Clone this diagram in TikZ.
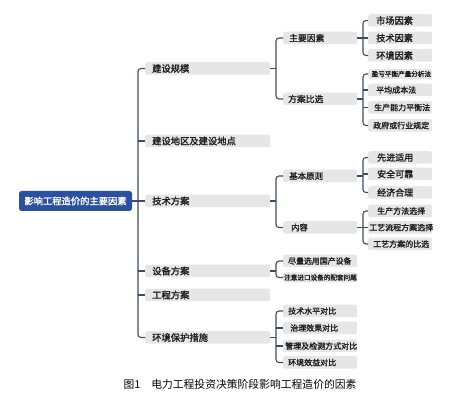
\documentclass[tikz,border=0pt]{standalone}
\usepackage{fontspec}
\newfontfamily\cjk{Noto Sans CJK SC}
\newfontfamily\cjkb{Noto Sans CJK SC}[FakeBold=1.6]
\definecolor{boxgray}{HTML}{E6E6E6}
\definecolor{rootblue}{HTML}{2B50A2}
\definecolor{linecol}{HTML}{3C4B68}
\definecolor{txt}{HTML}{1E1E1E}
\newcommand\Lone[2][7pt]{\makebox[125pt][l]{\hspace*{#1}#2}}
\newcommand\Ltwo[2][6pt]{\makebox[74pt][l]{\hspace*{#1}#2}}
\newcommand\Lthree[2][8pt]{\makebox[64pt][l]{\hspace*{#1}#2}}
\tikzset{
  base/.style={fill=boxgray, rounded corners=2pt, inner sep=0pt, minimum height=12.5pt,
    text=txt, anchor=west, font=\cjkb\fontsize{9.2}{10}\selectfont},
  fsz/.style={font=\cjkb\fontsize{#1}{#1}\selectfont},
  rootbox/.style={fill=rootblue, rounded corners=2.5pt, inner sep=0pt, minimum width=113pt,
    minimum height=20pt, text=white, font=\cjkb\fontsize{9.3}{10}\selectfont},
  conn/.style={draw=linecol, line width=1.1pt},
  brk/.style={conn, rounded corners=3pt},
  capt/.style={font=\cjk\fontsize{10.8}{12}\selectfont, text=black}
}
\begin{document}
\begin{tikzpicture}[x=1pt, y=-1pt]
\useasboundingbox (0,0) rectangle (451,404);
% root
\node[rootbox] (root) at (75.5,201) {影响工程造价的主要因素};
% level 1
\node[base, fsz=9.3] (a1) at (145,68.5) {\Lone{建设规模}};
\node[base, fsz=9.3] (a2) at (145,141) {\Lone{建设地区及建设地点}};
\node[base, fsz=9.3] (a3) at (145,201) {\Lone{技术方案}};
\node[base, fsz=9.3] (a4) at (145,271) {\Lone{设备方案}};
\node[base, fsz=9.3] (a5) at (145,295) {\Lone{工程方案}};
\node[base, fsz=9.3] (a6) at (145,337.5) {\Lone{环境保护措施}};
% level 2
\node[base, fsz=8.8] (b1) at (283,38) {\Ltwo{主要因素}};
\node[base, fsz=8.8] (b2) at (283,99) {\Ltwo[5pt]{方案比选}};
\node[base, fsz=8.5] (b3) at (283,176) {\Ltwo{基本原则}};
\node[base, fsz=8.3] (b4) at (283,227.5) {\Ltwo[8pt]{内容}};
\node[base, fsz=7.9] (b5) at (283,261) {\Ltwo[5pt]{尽量选用国产设备}};
\node[base, fsz=6.6, minimum height=10pt] (b6) at (283,277.5) {\Ltwo[1pt]{注意进口设备的配套问题}};
\node[base, fsz=8] (b7) at (283,311) {\Ltwo[5pt]{技术水平对比}};
\node[base, fsz=8] (b8) at (283,328) {\Ltwo[7pt]{治理效果对比}};
\node[base, fsz=8] (b9) at (283,346) {\Ltwo[2pt]{管理及检测方式对比}};
\node[base, fsz=8] (b10) at (283,362.5) {\Ltwo[5pt]{环境效益对比}};
% level 3
\node[base, fsz=9.2] (c1) at (368,20.5) {\Lthree{市场因素}};
\node[base, fsz=9.2] (c2) at (368,38) {\Lthree{技术因素}};
\node[base, fsz=9.2] (c3) at (368,55.5) {\Lthree{环境因素}};
\node[base, fsz=6.6, minimum height=10pt] (c4) at (368,74) {\Lthree[3.5pt]{盈亏平衡产量分析法}};
\node[base, fsz=8] (c5) at (368,90) {\Lthree{平均成本法}};
\node[base, fsz=8] (c6) at (368,107.5) {\Lthree[6pt]{生产能力平衡法}};
\node[base, fsz=8] (c7) at (368,125.5) {\Lthree[5pt]{政府或行业规定}};
\node[base, fsz=9] (c8) at (368,157.5) {\Lthree[9pt]{先进适用}};
\node[base, fsz=9] (c9) at (368,174) {\Lthree[9pt]{安全可靠}};
\node[base, fsz=9] (c10) at (368,192.5) {\Lthree[9pt]{经济合理}};
\node[base, fsz=8] (c11) at (368,211) {\Lthree[9pt]{生产方法选择}};
\node[base, fsz=8] (c12) at (368,227.5) {\Lthree[1pt]{工艺流程方案选择}};
\node[base, fsz=8] (c13) at (368,244) {\Lthree[5pt]{工艺方案的比选}};
% bracket x positions
\coordinate (k0) at (138,0);
\coordinate (k1) at (276,0);
\coordinate (k2) at (363,0);
% root -> level 1
\draw[conn] (root.east) -- (k0 |- root.east);
\draw[brk] (a1.west) -- (k0 |- a1.west) -- (k0 |- a6.west) -- (a6.west);
\foreach \n in {a2,a3,a4,a5} \draw[conn] (k0 |- \n.west) -- (\n.west);
% 建设规模
\draw[conn] (a1.east) -- (k1 |- a1.east);
\draw[brk] (b1.west) -- (k1 |- b1.west) -- (k1 |- b2.west) -- (b2.west);
% 技术方案
\draw[conn] (a3.east) -- (k1 |- a3.east);
\draw[brk] (b3.west) -- (k1 |- b3.west) -- (k1 |- b4.west) -- (b4.west);
% 设备方案
\draw[conn] (a4.east) -- (k1 |- a4.east);
\draw[brk] (b5.west) -- (k1 |- b5.west) -- (k1 |- b6.west) -- (b6.west);
% 环境保护措施
\draw[conn] (a6.east) -- (k1 |- a6.east);
\draw[brk] (b7.west) -- (k1 |- b7.west) -- (k1 |- b10.west) -- (b10.west);
\foreach \n in {b8,b9} \draw[conn] (k1 |- \n.west) -- (\n.west);
% 主要因素
\draw[conn] (b1.east) -- (k2 |- b1.east);
\draw[brk] (c1.west) -- (k2 |- c1.west) -- (k2 |- c3.west) -- (c3.west);
\draw[conn] (k2 |- c2.west) -- (c2.west);
% 方案比选
\draw[conn] (b2.east) -- (k2 |- b2.east);
\draw[brk] (c4.west) -- (k2 |- c4.west) -- (k2 |- c7.west) -- (c7.west);
\foreach \n in {c5,c6} \draw[conn] (k2 |- \n.west) -- (\n.west);
% 基本原则
\draw[conn] (b3.east) -- (k2 |- b3.east);
\draw[brk] (c8.west) -- (k2 |- c8.west) -- (k2 |- c10.west) -- (c10.west);
\draw[conn] (k2 |- c9.west) -- (c9.west);
% 内容
\draw[conn] (b4.east) -- (k2 |- b4.east);
\draw[brk] (c11.west) -- (k2 |- c11.west) -- (k2 |- c13.west) -- (c13.west);
\draw[conn] (k2 |- c12.west) -- (c12.west);
% caption
\node[capt] (cap) at (240,384) {图1\hspace{11pt}电力工程投资决策阶段影响工程造价的因素};
\end{tikzpicture}
\end{document}
